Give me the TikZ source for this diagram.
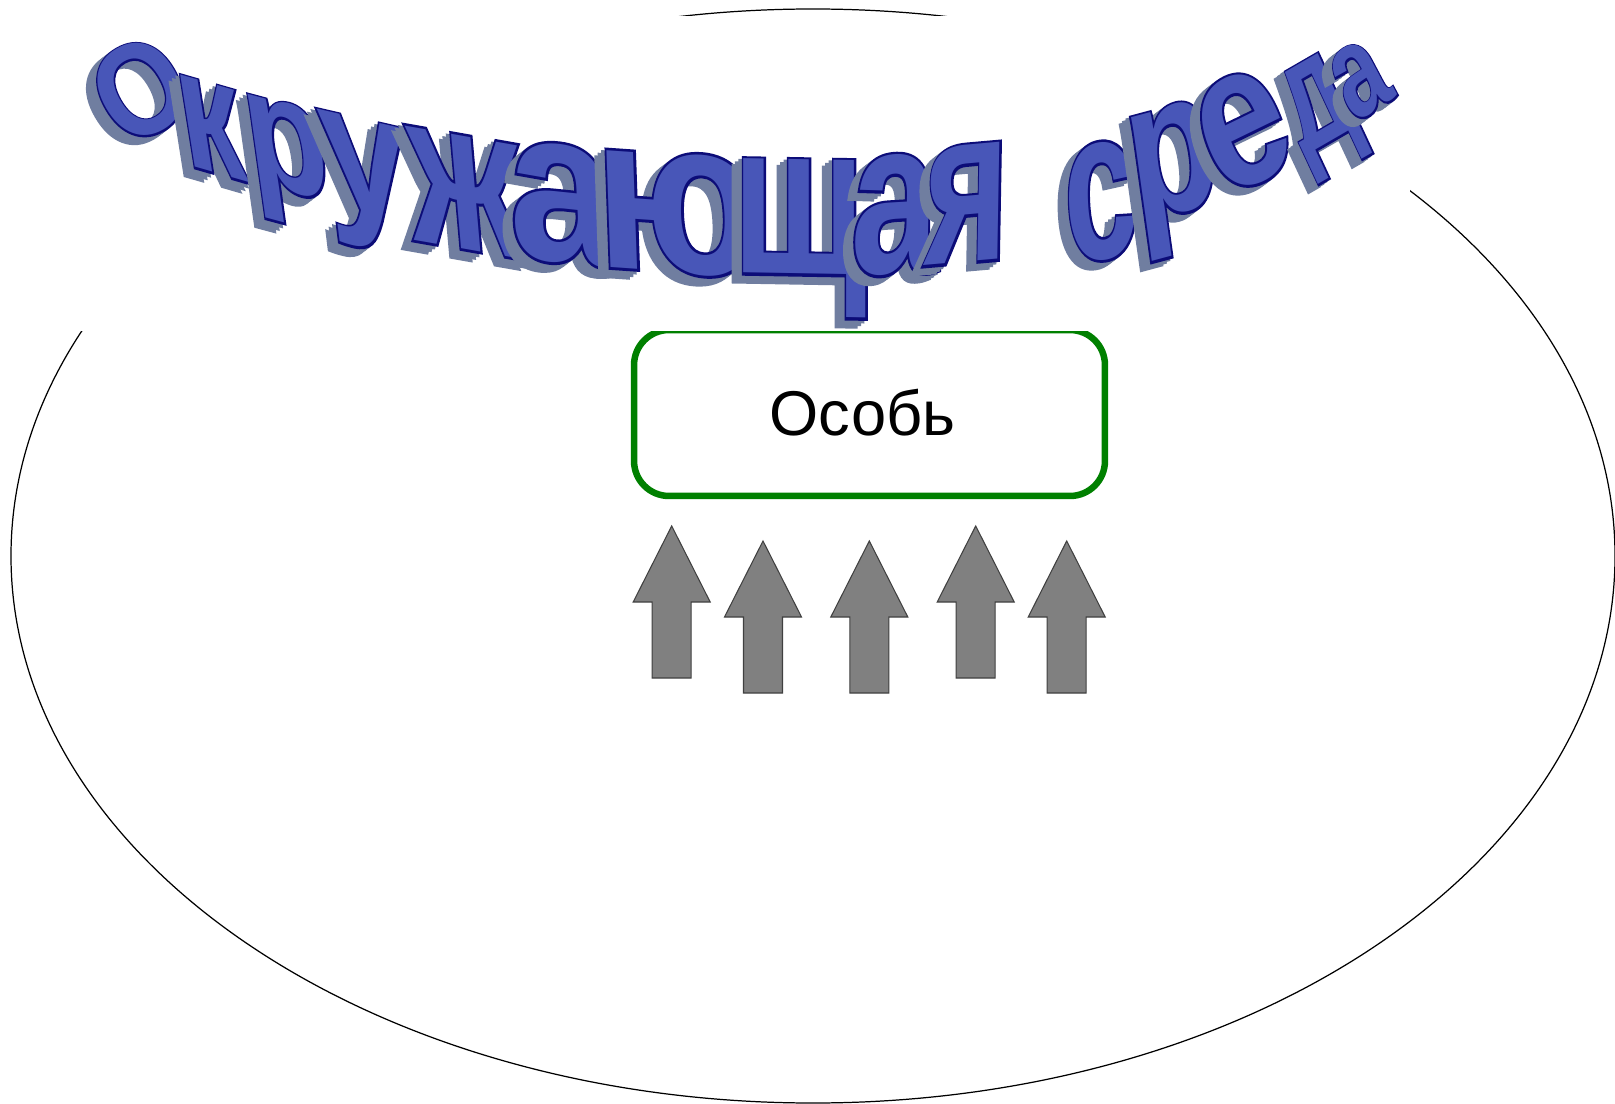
\documentclass[tikz,border=0pt]{standalone}
\usepackage{fontspec}
\setmainfont{Liberation Sans}
\newfontfamily\wafont{Liberation Sans}
\newfontfamily\waedge{Liberation Sans}[BoldFeatures={FakeBold=2.5}]
\usetikzlibrary{positioning}

\definecolor{waFill}{RGB}{72,86,184}
\definecolor{waEdge}{RGB}{12,12,120}
\definecolor{waShadow}{RGB}{112,126,160}
\definecolor{boxGreen}{RGB}{0,128,0}
\definecolor{arrowGray}{RGB}{128,128,128}

\begin{document}
\begin{tikzpicture}[x=0.02cm,y=-0.02cm,
                    wa/.style={inner sep=0pt,anchor=base,
                      font=\wafont\bfseries\fontsize{113.8pt}{120pt}\selectfont},
                    waback/.style={wa,font=\waedge\bfseries\fontsize{113.8pt}{120pt}\selectfont},
                    upblock/.style={fill=arrowGray,draw=black!75,line width=0.6pt}]

  \useasboundingbox (0,0) rectangle (1615,1104);

  % environment
  \draw[line width=0.7pt] (813,556) ellipse [x radius=802,y radius=547];

  % the individual
  \node[draw=boxGreen,line width=3.7pt,rounded corners=0.7cm,fill=white,
        minimum width=9.42cm,minimum height=3.32cm,
        font=\fontsize{36pt}{40pt}\selectfont] (osob) at (869.5,413)
        {\hspace*{-0.28cm}Особь};

  % white field behind the title
  \fill[white] (60,16) rectangle (1410,331);

  % arched title, letter by letter
  \foreach \ch/\x/\y/\a/\b/\sy/\xf [count=\i] in
     {О/163/129/30/30/0.66/0.85, к/218/174/-16/9/0.80/0.82, р/293/192/-15/8/0.78/0.9,
      у/371/214/-13/7/0.85/0.95, ж/471/250/-10/5/1.05/0.76, а/566/262/-7/3/1.08/0.92,
      ю/680/272/-4/2/1.10/0.88, щ/800/274/-1/0/1.08/0.74, а/894/273/2/-1/1.10/0.72,
      я/966/262/5/-1/1.10/0.66, с/1104/258/8/3/1.07/0.62, р/1180/212/15/8/0.98/0.76,
      е/1262/180/26/21/1.00/0.80, д/1333/140/30/25/0.78/0.66, а/1376/110/33/28/0.64/0.72}
  {
    \pgfmathsetmacro\slk{tan(\a-\b)}
    \pgfmathsetmacro\sx{\xf*\sy}
    \foreach \d in {1,2,3}
      \node[waback,text=waShadow,rotate=\a,xslant=\slk,xscale=\sx,yscale=\sy]
        at (\x-3.4*\d,\y+2.6*\d) {\ch};
    \node[waback,text=waEdge,rotate=\a,xslant=\slk,xscale=\sx,yscale=\sy]
      at (\x,\y) {\ch};
    \node[wa,text=waFill,rotate=\a,xslant=\slk,xscale=\sx,yscale=\sy]
      (t\i) at (\x,\y) {\ch};
  }

  % influences of the environment
  \foreach \x/\y in {671.7/526, 763/541, 869.3/541, 975.7/526, 1066.7/541}
    \draw[upblock] (\x,\y) -- ++(38.5,76) -- ++(-19,0) -- ++(0,76)
                   -- ++(-39,0) -- ++(0,-76) -- ++(-19,0) -- cycle;

\end{tikzpicture}
\end{document}
